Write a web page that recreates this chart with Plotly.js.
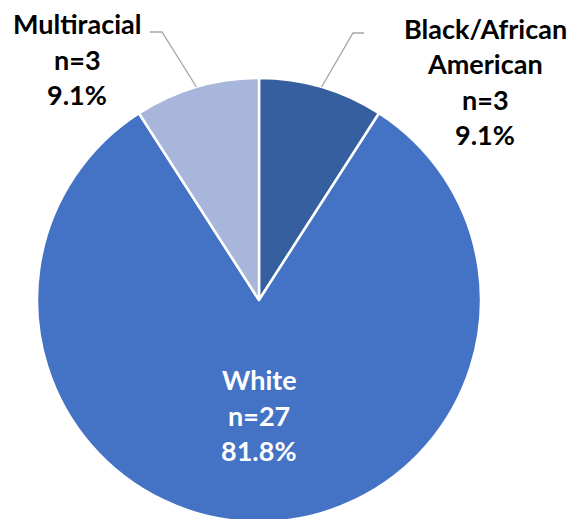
<!DOCTYPE html>
<html>
<head>
<meta charset="utf-8">
<script src="https://cdn.plot.ly/plotly-3.0.1.min.js"></script>
<style>
html,body{margin:0;padding:0;background:#fff;overflow:hidden;width:571px;height:519px;}
#chart{width:571px;height:524px;}
</style>
</head>
<body>
<div id="chart"></div>
<script>
// Data
const categories = ["Black/African American", "White", "Multiracial"];
const labelLines = [["Black/African", "American"], ["White"], ["Multiracial"]];
const counts = [3, 27, 3];
const colors = ["#355F9F", "#4472C4", "#A9B6DB"];

const W = 571, H = 524;
const cx = 259, cy = 300, R = 222;
const total = counts.reduce((a, b) => a + b, 0);
const pcts = counts.map(v => (100 * v / total).toFixed(1) + "%");

const px = x => x / W;
const py = y => 1 - y / H;

const FONT = "Lato, 'Open Sans', sans-serif";
const FS = 27;
const LS = 35.5;

// label anchor baselines (first line baseline position in pixels) and center x
const labelPos = [
  {x: 485, y: 38, color: "#000000"},
  {x: 259, y: 389.5, color: "#ffffff"},
  {x: 77, y: 33.5, color: "#000000"}
];

const annotations = [];
categories.forEach((c, i) => {
  const lines = labelLines[i].concat(["n=" + counts[i], pcts[i]]);
  lines.forEach((t, j) => {
    const base = labelPos[i].y + j * LS;
    annotations.push({
      xref: "paper", yref: "paper",
      x: px(labelPos[i].x), y: py(base - 0.36 * FS),
      xanchor: "center", yanchor: "middle",
      text: "<b>" + t + "</b>", showarrow: false,
      font: {family: FONT, size: FS, color: labelPos[i].color}
    });
  });
});

// leader lines for outside labels
const shapes = [];
let cum = 0;
const elbows = {0: [[353, 33], [364, 33]], 2: [[162, 32], [150, 32]]};
counts.forEach((v, i) => {
  const mid = (cum + v / 2) / total * 2 * Math.PI;
  cum += v;
  if (!elbows[i]) return;
  const sx = cx + R * Math.sin(mid), sy = cy - R * Math.cos(mid);
  const [e1, e2] = elbows[i];
  shapes.push({
    type: "path", xref: "paper", yref: "paper",
    path: `M ${px(sx)},${py(sy)} L ${px(e1[0])},${py(e1[1])} L ${px(e2[0])},${py(e2[1])}`,
    line: {color: "#A6A6A6", width: 1.3}
  });
});

const trace = {
  type: "pie",
  labels: categories,
  values: counts,
  sort: false,
  direction: "clockwise",
  rotation: 0,
  textinfo: "none",
  hoverinfo: "label+value+percent",
  marker: {colors: colors, line: {color: "#ffffff", width: 2.5}},
  domain: {x: [px(cx - R), px(cx + R)], y: [py(cy + R), py(cy - R)]},
  showlegend: false
};

Plotly.newPlot("chart", [trace], {
  width: W, height: H,
  margin: {l: 0, r: 0, t: 0, b: 0},
  paper_bgcolor: "#ffffff",
  showlegend: false,
  annotations: annotations,
  shapes: shapes
}, {displayModeBar: false, staticPlot: true});
</script>
</body>
</html>
